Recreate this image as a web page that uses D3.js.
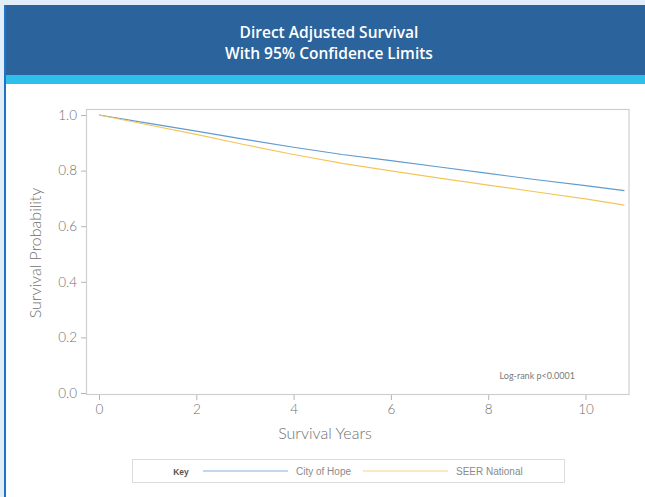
<!DOCTYPE html>
<html>
<head>
<meta charset="utf-8">
<script src="https://cdn.jsdelivr.net/npm/d3@7"></script>
<style>
  body { margin: 0; background: #e1edf9; }
  svg { display: block; }
  .tick text { font-family: Lato, sans-serif; font-weight: 300; font-size: 13.5px; fill: #707070; }
  .tick line { stroke: #b5b5b5; }
  .domain { display: none; }
</style>
</head>
<body>
<div id="chart"></div>
<script>
const chartWidth = 645, chartHeight = 497;

// survival curves (years, probability)
const years = [0, 1, 2, 3, 4, 5, 6, 7, 8, 9, 10, 10.8];
const cityOfHope = [1.0, 0.971, 0.942, 0.912, 0.884, 0.858, 0.836, 0.813, 0.790, 0.767, 0.746, 0.728];
const seerNational = [1.0, 0.965, 0.930, 0.893, 0.858, 0.826, 0.799, 0.773, 0.748, 0.723, 0.698, 0.676];
const seriesNames = ["City of Hope", "SEER National"];
const seriesColors = ["#5f9bcf", "#f3c65c"];
const xTicks = [0, 2, 4, 6, 8, 10];
const yTicks = [0, 0.2, 0.4, 0.6, 0.8, 1.0];
const titleLines = ["Direct Adjusted Survival", "With 95% Confidence Limits"];

const svg = d3.select("#chart")
  .append("svg")
  .attr("width", chartWidth)
  .attr("height", chartHeight);

// page background + left border
svg.append("rect").attr("x", 0).attr("y", 0).attr("width", chartWidth).attr("height", chartHeight).attr("fill", "#e1edf9");
svg.append("rect").attr("x", 6).attr("y", 84).attr("width", chartWidth - 6).attr("height", chartHeight - 84).attr("fill", "#ffffff");
svg.append("rect").attr("x", 4).attr("y", 5).attr("width", chartWidth - 4).attr("height", 71).attr("fill", "#2b649c");
svg.append("rect").attr("x", 4).attr("y", 75).attr("width", chartWidth - 4).attr("height", 9).attr("fill", "#2ec0ea");
svg.append("rect").attr("x", 4).attr("y", 5).attr("width", 2).attr("height", chartHeight - 5).attr("fill", "#1f73c4");

// title
svg.selectAll(".title")
  .data(titleLines)
  .join("text")
  .attr("class", "title")
  .attr("x", 329)
  .attr("y", (d, i) => 38 + i * 21)
  .attr("text-anchor", "middle")
  .attr("fill", "#ffffff")
  .style("font-family", "'Open Sans', sans-serif")
  .style("font-weight", 600)
  .style("font-size", "15.5px")
  .text(d => d);

// scales
const x = d3.scaleLinear().domain([0, 10]).range([99, 585.5]);
const y = d3.scaleLinear().domain([0, 1]).range([393, 115]);

// frame
svg.append("rect")
  .attr("x", 86.5).attr("y", 109.5)
  .attr("width", 629 - 86.5).attr("height", 394.5 - 109.5)
  .attr("fill", "none")
  .attr("stroke", "#cfcfcf")
  .attr("stroke-width", 1.2);

// axes
svg.append("g")
  .attr("class", "x-axis")
  .attr("transform", "translate(0, 395)")
  .call(d3.axisBottom(x).tickValues(xTicks).tickSize(5).tickPadding(4).tickFormat(d3.format("d")));

svg.append("g")
  .attr("class", "y-axis")
  .attr("transform", "translate(86, 0)")
  .call(d3.axisLeft(y).tickValues(yTicks).tickSize(5).tickPadding(4).tickFormat(d3.format(".1f")));

// axis labels
svg.append("text")
  .attr("x", 325).attr("y", 439)
  .attr("text-anchor", "middle")
  .attr("fill", "#707070")
  .style("font-family", "Lato, sans-serif")
  .style("font-weight", 300)
  .style("font-size", "16px")
  .text("Survival Years");

svg.append("text")
  .attr("transform", "translate(41, 253) rotate(-90)")
  .attr("text-anchor", "middle")
  .attr("fill", "#707070")
  .style("font-family", "Lato, sans-serif")
  .style("font-weight", 300)
  .style("font-size", "16px")
  .text("Survival Probability");

// curves
const line = d3.line()
  .x(d => x(d[0]))
  .y(d => y(d[1]));

[cityOfHope, seerNational].forEach((vals, i) => {
  svg.append("path")
    .datum(years.map((t, j) => [t, vals[j]]))
    .attr("fill", "none")
    .attr("stroke", seriesColors[i])
    .attr("stroke-width", 1.2)
    .attr("d", line);
});

// log-rank note
svg.append("text")
  .attr("x", 575).attr("y", 379)
  .attr("text-anchor", "end")
  .attr("fill", "#7a7a7a")
  .style("font-family", "Lato, sans-serif")
  .style("font-size", "9px")
  .text("Log-rank p<0.0001");

// legend
const legend = svg.append("g").attr("class", "legend");
legend.append("rect")
  .attr("x", 132.5).attr("y", 459.5)
  .attr("width", 432).attr("height", 23)
  .attr("fill", "#ffffff")
  .attr("stroke", "#dcdcdc");
legend.append("text")
  .attr("x", 181).attr("y", 474.5)
  .attr("text-anchor", "middle")
  .attr("fill", "#555")
  .style("font-family", "'Liberation Sans', Arial, sans-serif")
  .style("font-weight", "bold")
  .style("font-size", "8.5px")
  .text("Key");

const legendX = [203, 363];
seriesNames.forEach((name, i) => {
  legend.append("line")
    .attr("x1", legendX[i]).attr("x2", legendX[i] + 85)
    .attr("y1", 471).attr("y2", 471)
    .attr("stroke", seriesColors[i])
    .attr("stroke-opacity", 0.75)
    .attr("stroke-width", 1.2);
  legend.append("text")
    .attr("x", legendX[i] + 93).attr("y", 474.5)
    .attr("fill", "#8a8a8a")
    .style("font-family", "'Liberation Sans', Arial, sans-serif")
    .style("font-size", "10px")
    .text(name);
});
</script>
</body>
</html>
